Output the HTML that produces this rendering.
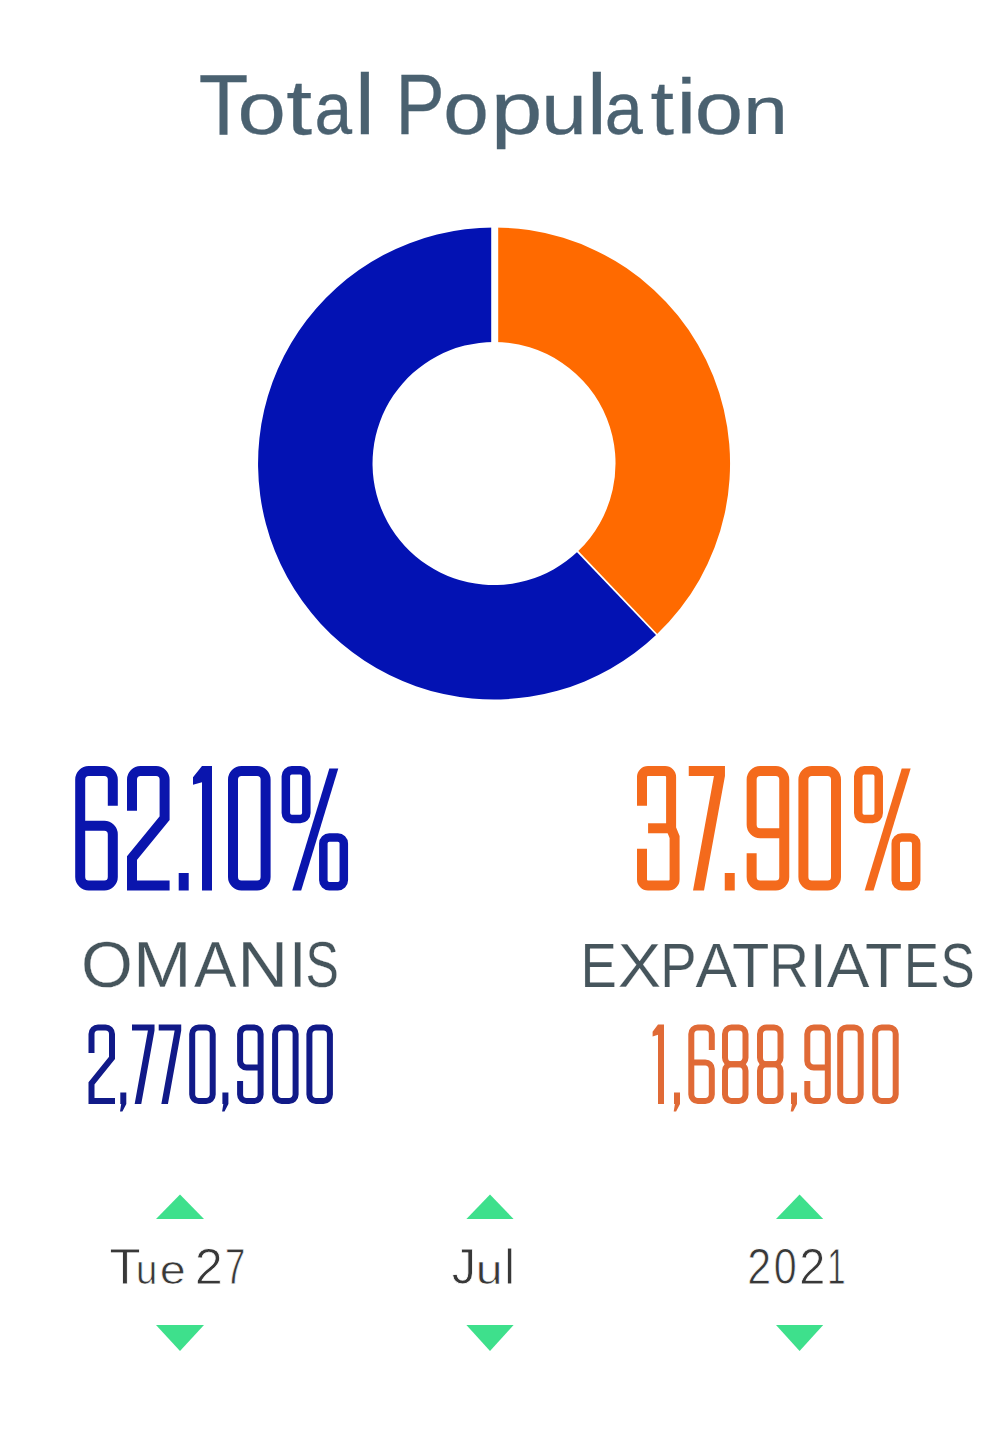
<!DOCTYPE html>
<html>
<head>
<meta charset="utf-8">
<style>
html,body{margin:0;padding:0;background:#fff;}
body{width:1000px;height:1448px;position:relative;overflow:hidden;font-family:"Liberation Sans",sans-serif;}
#donut{position:absolute;left:0;top:0;}
</style>
</head>
<body>
<svg style="position:absolute;left:0;top:0" width="1000" height="200" viewBox="0 0 1000 200">
<g font-family="Liberation Sans" font-size="84.5" fill="#4a6170" stroke="#4a6170" stroke-width="0.3">
<text transform="matrix(0.96 0 0 1.0 198.64 133.5)">T</text>
<text transform="matrix(1.03 0 0 0.87 237.49 133.5)">o</text>
<text transform="matrix(1.1 0 0 0.93 286.30 133.5)">t</text>
<text transform="matrix(0.8 0 0 0.87 314.60 133.5)">a</text>
<text transform="matrix(1.05 0 0 1.0 355.02 133.5)">l</text>
<text transform="matrix(0.87 0 0 1.0 395.53 133.5)">P</text>
<text transform="matrix(0.97 0 0 0.87 443.31 133.5)">o</text>
<text transform="matrix(1.1 0 0 0.87 490.85 133.5)">p</text>
<text transform="matrix(0.97 0 0 0.85 541.21 133.5)">u</text>
<text transform="matrix(1.05 0 0 1.0 587.02 133.5)">l</text>
<text transform="matrix(0.81 0 0 0.87 604.85 133.5)">a</text>
<text transform="matrix(1.0 0 0 0.9 650.50 133.5)">t</text>
<text transform="matrix(1.05 0 0 0.92 676.52 133.5)">i</text>
<text transform="matrix(1.03 0 0 0.87 694.79 133.5)">o</text>
<text transform="matrix(0.95 0 0 0.82 743.20 133.5)">n</text>
</g></svg>

<svg id="donut" width="1000" height="760" viewBox="0 0 1000 760">
  <path d="M494 227.5 A236 236 0 0 1 656.6 634.6 L577.7 551.6 A121.5 121.5 0 0 0 494 342 Z" fill="#ff6a00"/>
  <path d="M656.6 634.6 A236 236 0 1 1 494 227.5 L494 342 A121.5 121.5 0 1 0 577.7 551.6 Z" fill="#0312b3"/>
  <line x1="494.7" y1="220" x2="494.7" y2="345" stroke="#fff" stroke-width="7"/>
  <line x1="577" y1="550.8" x2="660" y2="638" stroke="#fff" stroke-width="1.8"/>
</svg>

<svg style="position:absolute;left:0;top:900px" width="1000" height="120" viewBox="0 900 1000 120">
<g font-family="Liberation Sans" font-size="63" fill="#46555c" stroke="#fff" stroke-width="0.25">
<text transform="matrix(1.058 0 0 1.030 80.93 987.2)">O</text>
<text transform="matrix(1.117 0 0 1.030 133.12 987.2)">M</text>
<text transform="matrix(1.012 0 0 1.030 194.00 987.2)">A</text>
<text transform="matrix(1.120 0 0 1.030 237.20 987.2)">N</text>
<text transform="matrix(1.000 0 0 1.030 289.10 987.2)">I</text>
<text transform="matrix(0.794 0 0 1.030 305.62 987.2)">S</text>
</g>
<g font-family="Liberation Sans" font-size="63" fill="#46555c" stroke="#fff" stroke-width="0.25">
<text transform="matrix(0.865 0 0 1.000 580.48 986.8)">E</text>
<text transform="matrix(1.032 0 0 1.000 617.74 986.8)">X</text>
<text transform="matrix(0.865 0 0 1.000 660.28 986.8)">P</text>
<text transform="matrix(0.990 0 0 1.000 695.40 986.8)">A</text>
<text transform="matrix(0.972 0 0 1.000 732.03 986.8)">T</text>
<text transform="matrix(0.870 0 0 1.000 769.25 986.8)">R</text>
<text transform="matrix(1.000 0 0 1.000 809.40 986.8)">I</text>
<text transform="matrix(1.017 0 0 1.000 826.80 986.8)">A</text>
<text transform="matrix(0.972 0 0 1.000 865.03 986.8)">T</text>
<text transform="matrix(0.841 0 0 1.000 903.79 986.8)">E</text>
<text transform="matrix(0.814 0 0 1.000 940.56 986.8)">S</text>
</g>
</svg>
<svg style="position:absolute;left:0;top:0" width="1000" height="1448" viewBox="0 0 1000 1448">
<path d="M112.8 805.84 L112.8 779.5 A8.5 8.5 0 0 0 104.3 771 L88.7 771 A8.5 8.5 0 0 0 80.2 779.5 L80.2 877 A8.5 8.5 0 0 0 88.7 885.5 L104.3 885.5 A8.5 8.5 0 0 0 112.8 877 L112.8 834.28 A8.5 8.5 0 0 0 104.3 825.78 L80.2 825.78" fill="none" stroke="#0a15ad" stroke-width="10"/>
<path d="M132 810.82 L132 779.5 A8.5 8.5 0 0 1 140.5 771 L156.1 771 A8.5 8.5 0 0 1 164.6 779.5 L164.6 818.29 L132 858.13 L132 885.5 L169.6 885.5" fill="none" stroke="#0a15ad" stroke-width="10"/>
<path d="M178.7 873 L188.7 873 L188.7 890.5 L178.7 890.5 Z" fill="#0a15ad"/>
<path d="M202 766 L212 766 L212 890.5 L202 890.5 L202 782.18 L193 784.67 L193 777.21 Z" fill="#0a15ad"/>
<path d="M233 779.5 L233 877 A8.5 8.5 0 0 0 241.5 885.5 L257.1 885.5 A8.5 8.5 0 0 0 265.6 877 L265.6 779.5 A8.5 8.5 0 0 0 257.1 771 L241.5 771 A8.5 8.5 0 0 0 233 779.5 Z" fill="none" stroke="#0a15ad" stroke-width="10"/>
<path d="M285.85 776.2 L285.85 813.07 A5.95 5.95 0 0 0 291.8 819.02 L300.37 819.02 A5.95 5.95 0 0 0 306.32 813.07 L306.32 776.2 A5.95 5.95 0 0 0 300.37 770.25 L291.8 770.25 A5.95 5.95 0 0 0 285.85 776.2 Z" fill="none" stroke="#0a15ad" stroke-width="8.5"/>
<path d="M323.34 843.43 L323.34 880.3 A5.95 5.95 0 0 0 329.29 886.25 L337.86 886.25 A5.95 5.95 0 0 0 343.81 880.3 L343.81 843.43 A5.95 5.95 0 0 0 337.86 837.48 L329.29 837.48 A5.95 5.95 0 0 0 323.34 843.43 Z" fill="none" stroke="#0a15ad" stroke-width="8.5"/>
<path d="M329.33 768.49 L338.26 768.49 L301.18 890.5 L292.25 890.5 Z" fill="#0a15ad"/>
<path d="M642 805.84 L642 777 A6 6 0 0 1 648 771 L665.1 771 A6 6 0 0 1 671.1 777 L671.1 828.27 L674.6 837.02 L674.6 879.5 A6 6 0 0 1 668.6 885.5 L648 885.5 A6 6 0 0 1 642 879.5 L642 848.79" fill="none" stroke="#f46a1c" stroke-width="10"/>
<path d="M648.08 828.27 L671.1 828.27" fill="none" stroke="#f46a1c" stroke-width="10"/>
<path d="M688.75 766 L724.96 766 L724.96 776 L704.01 890.5 L693.01 890.5 L713.96 776 L688.75 776 Z" fill="#f46a1c"/>
<path d="M724.75 873 L734.75 873 L734.75 890.5 L724.75 890.5 Z" fill="#f46a1c"/>
<path d="M784.25 803.35 L784.25 779.5 A8.5 8.5 0 0 0 775.75 771 L760.15 771 A8.5 8.5 0 0 0 751.65 779.5 L751.65 877 A8.5 8.5 0 0 0 760.15 885.5 L775.75 885.5 A8.5 8.5 0 0 0 784.25 877 L784.25 831.79 A8.5 8.5 0 0 0 775.75 823.29 L751.65 823.29" fill="none" stroke="#f46a1c" stroke-width="10" transform="rotate(180 767.95 828.25)"/>
<path d="M803.4 779.5 L803.4 877 A8.5 8.5 0 0 0 811.9 885.5 L827.5 885.5 A8.5 8.5 0 0 0 836 877 L836 779.5 A8.5 8.5 0 0 0 827.5 771 L811.9 771 A8.5 8.5 0 0 0 803.4 779.5 Z" fill="none" stroke="#f46a1c" stroke-width="10"/>
<path d="M858.25 776.2 L858.25 813.07 A5.95 5.95 0 0 0 864.2 819.02 L872.77 819.02 A5.95 5.95 0 0 0 878.72 813.07 L878.72 776.2 A5.95 5.95 0 0 0 872.77 770.25 L864.2 770.25 A5.95 5.95 0 0 0 858.25 776.2 Z" fill="none" stroke="#f46a1c" stroke-width="8.5"/>
<path d="M895.74 843.43 L895.74 880.3 A5.95 5.95 0 0 0 901.69 886.25 L910.26 886.25 A5.95 5.95 0 0 0 916.21 880.3 L916.21 843.43 A5.95 5.95 0 0 0 910.26 837.48 L901.69 837.48 A5.95 5.95 0 0 0 895.74 843.43 Z" fill="none" stroke="#f46a1c" stroke-width="8.5"/>
<path d="M901.73 768.49 L910.66 768.49 L873.57 890.5 L864.65 890.5 Z" fill="#f46a1c"/>
<path d="M91.5 1053.12 L91.5 1034 A6.5 6.5 0 0 1 98 1027.5 L105.5 1027.5 A6.5 6.5 0 0 1 112 1034 L112 1057.89 L91.5 1083.33 L91.5 1101 L115 1101" fill="none" stroke="#111a88" stroke-width="6"/>
<path d="M120.3 1092.6 L126.3 1092.6 L126.3 1104 L122.4 1111.5 L120 1111.5 L121.2 1104 L120.3 1104 Z" fill="#111a88"/>
<path d="M132 1024.5 L154.53 1024.5 L154.53 1030.5 L141.25 1104 L134.65 1104 L147.93 1030.5 L132 1030.5 Z" fill="#111a88"/>
<path d="M158.7 1024.5 L181.22 1024.5 L181.22 1030.5 L167.95 1104 L161.35 1104 L174.62 1030.5 L158.7 1030.5 Z" fill="#111a88"/>
<path d="M192.2 1034 L192.2 1094.5 A6.5 6.5 0 0 0 198.7 1101 L206.2 1101 A6.5 6.5 0 0 0 212.7 1094.5 L212.7 1034 A6.5 6.5 0 0 0 206.2 1027.5 L198.7 1027.5 A6.5 6.5 0 0 0 192.2 1034 Z" fill="none" stroke="#111a88" stroke-width="6"/>
<path d="M222.4 1092.6 L228.4 1092.6 L228.4 1104 L224.5 1111.5 L222.1 1111.5 L223.3 1104 L222.4 1104 Z" fill="#111a88"/>
<path d="M260.6 1047.56 L260.6 1034 A6.5 6.5 0 0 0 254.1 1027.5 L246.6 1027.5 A6.5 6.5 0 0 0 240.1 1034 L240.1 1094.5 A6.5 6.5 0 0 0 246.6 1101 L254.1 1101 A6.5 6.5 0 0 0 260.6 1094.5 L260.6 1067.39 A6.5 6.5 0 0 0 254.1 1060.89 L240.1 1060.89" fill="none" stroke="#111a88" stroke-width="6" transform="rotate(180 250.35 1064.25)"/>
<path d="M275.1 1034 L275.1 1094.5 A6.5 6.5 0 0 0 281.6 1101 L289.1 1101 A6.5 6.5 0 0 0 295.6 1094.5 L295.6 1034 A6.5 6.5 0 0 0 289.1 1027.5 L281.6 1027.5 A6.5 6.5 0 0 0 275.1 1034 Z" fill="none" stroke="#111a88" stroke-width="6"/>
<path d="M309.4 1034 L309.4 1094.5 A6.5 6.5 0 0 0 315.9 1101 L323.4 1101 A6.5 6.5 0 0 0 329.9 1094.5 L329.9 1034 A6.5 6.5 0 0 0 323.4 1027.5 L315.9 1027.5 A6.5 6.5 0 0 0 309.4 1034 Z" fill="none" stroke="#111a88" stroke-width="6"/>
<path d="M658 1024.5 L664 1024.5 L664 1104 L658 1104 L658 1034.84 L652.6 1036.42 L652.6 1031.65 Z" fill="#e06a36"/>
<path d="M674 1092.6 L680 1092.6 L680 1104 L676.1 1111.5 L673.7 1111.5 L674.9 1104 L674 1104 Z" fill="#e06a36"/>
<path d="M711.8 1049.94 L711.8 1034 A6.5 6.5 0 0 0 705.3 1027.5 L697.8 1027.5 A6.5 6.5 0 0 0 691.3 1034 L691.3 1094.5 A6.5 6.5 0 0 0 697.8 1101 L705.3 1101 A6.5 6.5 0 0 0 711.8 1094.5 L711.8 1068.98 A6.5 6.5 0 0 0 705.3 1062.48 L691.3 1062.48" fill="none" stroke="#e06a36" stroke-width="6"/>
<path d="M725 1034 L725 1057.75 A6.5 6.5 0 0 0 731.5 1064.25 L739 1064.25 A6.5 6.5 0 0 0 745.5 1057.75 L745.5 1034 A6.5 6.5 0 0 0 739 1027.5 L731.5 1027.5 A6.5 6.5 0 0 0 725 1034 Z" fill="none" stroke="#e06a36" stroke-width="6"/>
<path d="M725 1070.75 L725 1094.5 A6.5 6.5 0 0 0 731.5 1101 L739 1101 A6.5 6.5 0 0 0 745.5 1094.5 L745.5 1070.75 A6.5 6.5 0 0 0 739 1064.25 L731.5 1064.25 A6.5 6.5 0 0 0 725 1070.75 Z" fill="none" stroke="#e06a36" stroke-width="6"/>
<path d="M760 1034 L760 1057.75 A6.5 6.5 0 0 0 766.5 1064.25 L774 1064.25 A6.5 6.5 0 0 0 780.5 1057.75 L780.5 1034 A6.5 6.5 0 0 0 774 1027.5 L766.5 1027.5 A6.5 6.5 0 0 0 760 1034 Z" fill="none" stroke="#e06a36" stroke-width="6"/>
<path d="M760 1070.75 L760 1094.5 A6.5 6.5 0 0 0 766.5 1101 L774 1101 A6.5 6.5 0 0 0 780.5 1094.5 L780.5 1070.75 A6.5 6.5 0 0 0 774 1064.25 L766.5 1064.25 A6.5 6.5 0 0 0 760 1070.75 Z" fill="none" stroke="#e06a36" stroke-width="6"/>
<path d="M791 1092.6 L797 1092.6 L797 1104 L793.1 1111.5 L790.7 1111.5 L791.9 1104 L791 1104 Z" fill="#e06a36"/>
<path d="M827.8 1047.56 L827.8 1034 A6.5 6.5 0 0 0 821.3 1027.5 L813.8 1027.5 A6.5 6.5 0 0 0 807.3 1034 L807.3 1094.5 A6.5 6.5 0 0 0 813.8 1101 L821.3 1101 A6.5 6.5 0 0 0 827.8 1094.5 L827.8 1067.39 A6.5 6.5 0 0 0 821.3 1060.89 L807.3 1060.89" fill="none" stroke="#e06a36" stroke-width="6" transform="rotate(180 817.55 1064.25)"/>
<path d="M840.2 1034 L840.2 1094.5 A6.5 6.5 0 0 0 846.7 1101 L854.2 1101 A6.5 6.5 0 0 0 860.7 1094.5 L860.7 1034 A6.5 6.5 0 0 0 854.2 1027.5 L846.7 1027.5 A6.5 6.5 0 0 0 840.2 1034 Z" fill="none" stroke="#e06a36" stroke-width="6"/>
<path d="M875.2 1034 L875.2 1094.5 A6.5 6.5 0 0 0 881.7 1101 L889.2 1101 A6.5 6.5 0 0 0 895.7 1094.5 L895.7 1034 A6.5 6.5 0 0 0 889.2 1027.5 L881.7 1027.5 A6.5 6.5 0 0 0 875.2 1034 Z" fill="none" stroke="#e06a36" stroke-width="6"/>
</svg>

<svg style="position:absolute;left:0;top:1180px" width="1000" height="190" viewBox="0 1180 1000 190">
  <g fill="#3ee08c">
    <polygon points="156,1219 204,1219 180,1194.5"/>
    <polygon points="466.4,1219 513.6,1219 490,1194.5"/>
    <polygon points="776,1219 823.2,1219 799.6,1194.5"/>
    <polygon points="156,1325 204,1325 180,1351"/>
    <polygon points="466.4,1325 513.6,1325 490,1351"/>
    <polygon points="776,1325 823.2,1325 799.6,1351"/>
  </g>
</svg>

<svg style="position:absolute;left:0;top:1230px" width="1000" height="70" viewBox="0 1230 1000 70">
<g font-family="Liberation Sans" font-size="50" fill="#383838" stroke="#fff" stroke-width="0.8">
<text transform="matrix(1.029 0 0 1.000 109.37 1284.2)">T</text>
<text transform="matrix(0.764 0 0 0.830 136.11 1284.2)">u</text>
<text transform="matrix(0.933 0 0 0.830 159.73 1284.2)">e</text>
<text transform="matrix(1.009 0 0 1.000 194.78 1284.2)">2</text>
<text transform="matrix(0.730 0 0 1.000 224.94 1284.2)">7</text>
</g>
<g font-family="Liberation Sans" font-size="50" fill="#383838" stroke="#fff" stroke-width="0.8">
<text transform="matrix(0.970 0 0 1.000 451.63 1284.2)">J</text>
<text transform="matrix(0.964 0 0 0.830 475.81 1284.2)">u</text>
<text transform="matrix(1.000 0 0 1.000 503.90 1284.2)">l</text>
</g>
<g font-family="Liberation Sans" font-size="50" fill="#383838" stroke="#fff" stroke-width="0.8">
<text transform="matrix(0.861 0 0 1.000 747.28 1284.2)">2</text>
<text transform="matrix(0.825 0 0 1.000 773.75 1284.2)">0</text>
<text transform="matrix(0.939 0 0 1.000 799.32 1284.2)">2</text>
<text transform="matrix(0.657 0 0 1.000 827.37 1284.2)">1</text>
</g>
</svg>
</body>
</html>
